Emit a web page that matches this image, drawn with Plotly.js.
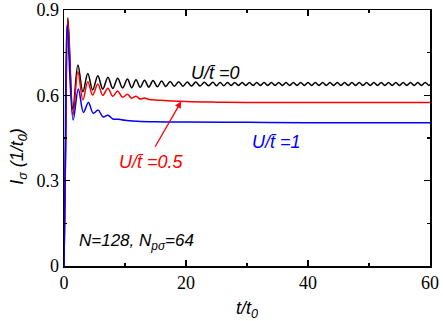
<!DOCTYPE html>
<html><head><meta charset="utf-8">
<script src="https://cdn.plot.ly/plotly-3.0.1.min.js"></script>
<style>html,body{margin:0;padding:0;background:#fff}#chart{width:443px;height:321px}</style>
</head><body><div id="chart"></div>
<script>
// U/t = 0 (black): time and current values (extrema of the oscillation)
const tBlack = [0,0.25,0.64,1.46,2.28,3.1,3.9,4.7,5.55,6.35,7.2,8.0,8.8,9.6,10.4,11.1,11.8,12.5,13.2,13.9,14.6,15.3,16.0,16.7,17.4,18.1,18.8,19.5,20.2,20.9,21.6,22.3,23.0,23.7,24.4,25.0,25.6,26.2,26.8,27.4,28.0,28.6,29.2,29.8,30.4,31.0,31.6,32.2,32.8,33.4,34.0,34.6,35.2,35.8,36.4,37.0,37.6,38.2,38.8,39.4,40.0,40.6,41.2,41.8,42.4,43.0,43.6,44.2,44.8,45.4,46.0,46.6,47.2,47.8,48.4,49.0,49.6,50.2,50.8,51.4,52.0,52.6,53.2,53.8,54.4,55.0,55.6,56.2,56.8,57.4,58.0,58.6,59.2,59.8,60];
const iBlack = [0,0.40,0.873,0.549,0.707,0.613,0.677,0.619,0.669,0.622,0.664,0.624,0.660,0.626,0.657,0.627,0.655,0.628,0.653,0.629,0.652,0.630,0.650,0.631,0.649,0.632,0.648,0.632,0.647,0.633,0.647,0.633,0.646,0.634,0.646,0.634,0.645,0.634,0.645,0.635,0.645,0.635,0.645,0.635,0.645,0.635,0.645,0.635,0.645,0.635,0.645,0.635,0.645,0.635,0.645,0.635,0.645,0.635,0.645,0.635,0.645,0.635,0.645,0.635,0.645,0.635,0.645,0.635,0.645,0.635,0.645,0.635,0.645,0.635,0.645,0.635,0.645,0.635,0.645,0.635,0.645,0.635,0.645,0.635,0.645,0.635,0.645,0.635,0.645,0.635,0.645,0.635,0.645,0.635,0.638];

// U/t = 0.5 (red)
const tRed = [0,0.25,0.62,1.46,2.28,3.1,3.9,4.7,5.55,6.35,7.2,8.0,8.8,9.6,10.4,11.1,11.8,12.5,13.2,14.0,15.0,17.0,20.0,25.0,30.0,40.0,50.0,60.0];
const iRed = [0,0.39,0.865,0.530,0.683,0.584,0.648,0.601,0.640,0.600,0.625,0.597,0.615,0.593,0.604,0.590,0.597,0.587,0.591,0.585,0.584,0.581,0.578,0.576,0.575,0.575,0.575,0.575];

// U/t = 1 (blue)
const tBlue = [0,0.2,0.52,1.5,2.35,3.2,4.0,4.8,5.6,6.4,7.2,8.0,9.0,10,12,15,20,30,40,60];
const iBlue = [0,0.37,0.848,0.513,0.622,0.540,0.575,0.537,0.548,0.524,0.530,0.517,0.516,0.512,0.509,0.507,0.506,0.505,0.504,0.504];

const xTicks = [0,20,40,60];
const yTicks = [0,0.3,0.6,0.9];
const yTickText = ['0','0.3','0.6','0.9'];

const lbl0 = 'U/t\u0304 =0', lbl05 = 'U/t\u0304 =0.5', lbl1 = 'U/t\u0304 =1';

const traces = [
  {x:tBlack, y:iBlack, mode:'lines', line:{color:'#000000', width:1.5, shape:'spline'}},
  {x:tRed, y:iRed, mode:'lines', line:{color:'#ff0000', width:1.5, shape:'spline'}},
  {x:tBlue, y:iBlue, mode:'lines', line:{color:'#0000ff', width:1.5, shape:'spline'}}
];

const serif = {family:'Liberation Serif, Times New Roman, serif', size:18, color:'#000'};
const sans = 'Liberation Sans, Arial, sans-serif';

const axisCommon = {
  showgrid:false, zeroline:false, showline:true, linecolor:'#000', linewidth:1.5,
  mirror:'ticks', ticks:'inside', ticklen:6, tickwidth:1.2, tickcolor:'#000',
  tickfont:serif, ticklabeloverflow:'allow'
};

const layout = {
  width:443, height:321,
  margin:{l:64, r:13, t:10, b:55},
  paper_bgcolor:'#fff', plot_bgcolor:'#fff',
  showlegend:false,
  xaxis:Object.assign({}, axisCommon, {
    range:[0,60], tickvals:xTicks, ticktext:xTicks.map(String),
    minor:{tickvals:[10,30,50], ticklen:3, tickwidth:1.2, tickcolor:'#000', ticks:'inside'},
    title:{text:'<i>t/t<sub>0</sub></i>', font:{family:sans, size:18, color:'#000'}, standoff:9}
  }),
  yaxis:Object.assign({}, axisCommon, {
    range:[0,0.9], tickvals:yTicks, ticktext:yTickText,
    minor:{tickvals:[0.15,0.45,0.75], ticklen:3, tickwidth:1.2, tickcolor:'#000', ticks:'inside'}
  }),
  annotations:[
    {xref:'paper', yref:'paper', x:-0.16, y:0.43, textangle:-90, showarrow:false,
     text:'<i>I<sub>σ</sub> (1/t<sub>0</sub>)</i>', font:{family:sans, size:18, color:'#000'}},
    {x:24.9, y:0.679, text:'<i>'+lbl0+'</i>', showarrow:false, font:{family:sans, size:18, color:'#000'}},
    {x:34.8, y:0.436, text:'<i>'+lbl1+'</i>', showarrow:false, font:{family:sans, size:18, color:'#0000ff'}},
    {x:14.3, y:0.366, text:'<i>'+lbl05+'</i>', showarrow:false, font:{family:sans, size:18, color:'#ff0000'}},
    {x:19.2, y:0.578, ax:14.8, ay:0.414, axref:'x', ayref:'y', text:'', showarrow:true,
     arrowhead:2, arrowsize:1, arrowwidth:1.3, arrowcolor:'#ff0000'},
    {x:2.2, y:0.085, xanchor:'left', text:'<i>N=128, N<sub>pσ</sub>=64</i>', showarrow:false,
     font:{family:sans, size:17, color:'#000'}}
  ]
};

Plotly.newPlot('chart', traces, layout, {staticPlot:true, displayModeBar:false});
</script></body></html>
